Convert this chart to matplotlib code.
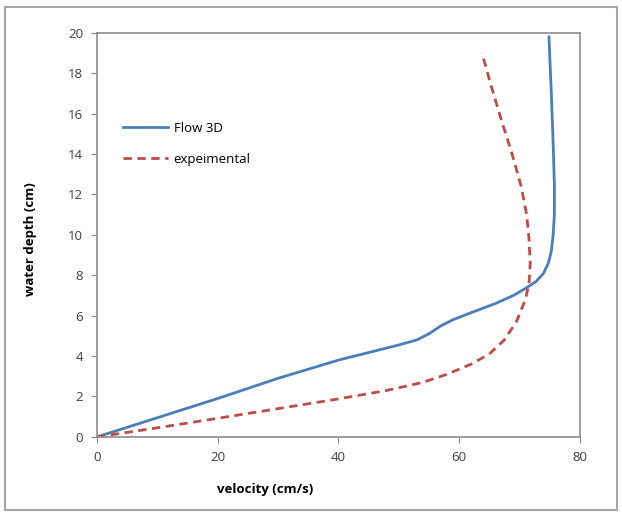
import matplotlib.pyplot as plt
from matplotlib.patches import Rectangle

# Flow 3D simulated profile
flow3d_vel = [0, 10, 20, 30, 40, 46, 50, 53, 55, 57, 59, 62, 66, 69, 71, 72.8, 74, 74.8,
              75.3, 75.6, 75.8, 75.8, 75.6, 75.3, 74.9]
flow3d_depth = [0, 0.95, 1.9, 2.9, 3.8, 4.25, 4.55, 4.8, 5.1, 5.5, 5.8, 6.15, 6.6, 7.0,
                7.35, 7.7, 8.1, 8.6, 9.2, 10, 11, 12.5, 14.5, 17, 19.8]

# experimental profile
exp_vel = [0, 10, 20, 30, 40, 48, 54, 58, 62, 65, 67.5, 69.5, 71, 71.6, 71.8, 71.6, 71.2,
           70.3, 68.8, 67, 65.3, 63.8]
exp_depth = [0, 0.45, 0.92, 1.4, 1.88, 2.3, 2.7, 3.1, 3.6, 4.1, 4.8, 5.7, 6.8, 7.6, 8.6,
             9.8, 11, 12.4, 14, 15.7, 17.4, 19.0]

xticks = [0, 20, 40, 60, 80]
yticks = [0, 2, 4, 6, 8, 10, 12, 14, 16, 18, 20]

plt.rcParams['font.family'] = ['Open Sans', 'DejaVu Sans']

fig = plt.figure(figsize=(6.22, 5.14), dpi=100)
ax = fig.add_axes([0.156, 0.150, 0.776, 0.786])

ax.plot(flow3d_vel, flow3d_depth, color='#4a7ebb', lw=2.0, label='Flow 3D',
        solid_joinstyle='round')
ax.plot(exp_vel, exp_depth, color='#be4b48', lw=2.0, ls=(0, (3, 2)), label='expeimental')

ax.set_xlim(0, 80)
ax.set_ylim(0, 20)
ax.set_xticks(xticks)
ax.set_yticks(yticks)
for s in ax.spines.values():
    s.set_color('#8c8c8c')
    s.set_linewidth(1.2)
ax.tick_params(direction='out', length=4, color='#8c8c8c', labelsize=9.5,
               labelcolor='#404040', pad=6)

ax.set_xlabel('velocity (cm/s)', fontsize=9.5, fontweight='bold')
ax.set_ylabel('water depth (cm)', fontsize=9.5, fontweight='bold')
ax.xaxis.set_label_coords(0.348, -0.115)
ax.yaxis.set_label_coords(-0.125, 0.49)

ax.legend(loc='upper left', bbox_to_anchor=(0.03, 0.81), frameon=False,
          handlelength=3.4, handletextpad=0.4, labelspacing=1.4, fontsize=9.5)

fig.patches.append(Rectangle((0.008, 0.008), 0.984, 0.978, transform=fig.transFigure,
                             fill=False, edgecolor='#a6a6a6', lw=1.5))

fig.savefig('out.png', dpi=100)
